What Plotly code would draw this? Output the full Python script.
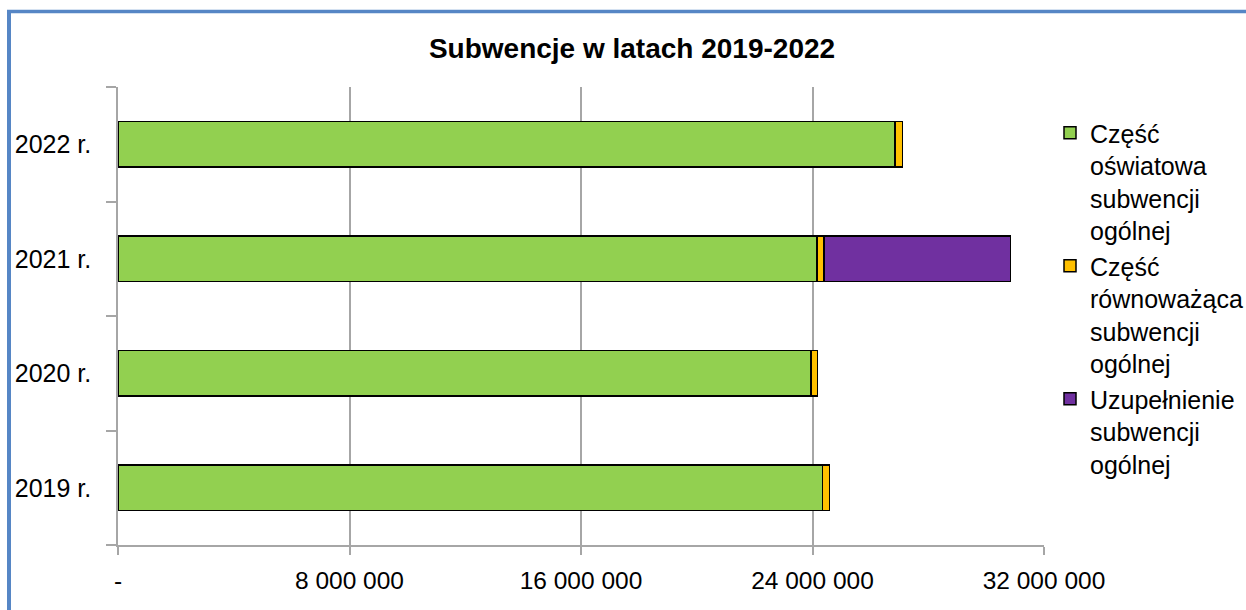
import plotly.graph_objects as go

categories = ["2019 r.", "2020 r.", "2021 r.", "2022 r."]
czesc_oswiatowa = [24350000, 23950000, 24150000, 26850000]
czesc_rownowazaca = [240000, 220000, 250000, 260000]
uzupelnienie = [None, None, 6440000, None]

series_names = [
    "Część<br>oświatowa<br>subwencji<br>ogólnej",
    "Część<br>równoważąca<br>subwencji<br>ogólnej",
    "Uzupełnienie<br>subwencji<br>ogólnej",
]
colors = ["#92D050", "#FFC000", "#7030A0"]

tick_vals = [0, 8000000, 16000000, 24000000, 32000000]
tick_text = ["-", "8 000 000", "16 000 000", "24 000 000", "32 000 000"]

FONT = "Liberation Sans"

fig = go.Figure()
for name, vals, col in zip(series_names, [czesc_oswiatowa, czesc_rownowazaca, uzupelnienie], colors):
    fig.add_trace(go.Bar(
        y=categories, x=vals, name=name, orientation="h",
        marker=dict(color=col, line=dict(color="#000000", width=1.5)),
    ))

# plot area in pixels: x 118..1044, y 87..545
L, R, T, B = 118, 1044, 87, 545
W, H = R - L, B - T
def px(x):
    return (x - L) / W
def py(y):
    return (B - y) / H

fig.update_layout(
    width=1246, height=610,
    margin=dict(l=L, r=1246 - R, t=T, b=610 - B, pad=0, autoexpand=False),
    barmode="stack", bargap=0.6,
    paper_bgcolor="white", plot_bgcolor="white",
    font=dict(family=FONT, size=24, color="#000000"),
    title=dict(text="<b>Subwencje w latach 2019-2022</b>", x=632 / 1246, xref="container",
               xanchor="center", y=1 - 48 / 610, yref="container", yanchor="middle",
               font=dict(family=FONT, size=28, color="#000000")),
    showlegend=True,
    legend=dict(x=1050 / 1246, xref="container", y=1 - 110 / 610, yref="container",
                xanchor="left", yanchor="top", valign="top", maxheight=590,
                traceorder="normal", font=dict(family=FONT, size=25),
                bgcolor="rgba(0,0,0,0)", itemwidth=30),
    xaxis=dict(range=[0, 32000000], tickvals=tick_vals, ticktext=tick_text,
               automargin=False,
               showgrid=True, gridcolor="#A6A6A6", gridwidth=1.5,
               showline=True, linecolor="#A6A6A6", linewidth=2,
               ticks="outside", ticklen=8, tickcolor="#A6A6A6", tickwidth=1.5,
               ticklabelstandoff=5, zeroline=False,
               tickfont=dict(family=FONT, size=24.5)),
    yaxis=dict(showline=True, linecolor="#A6A6A6", linewidth=1.5, automargin=False,
               ticks="outside", tickson="boundaries", ticklen=10,
               tickcolor="#A6A6A6", tickwidth=1.5, ticklabelstandoff=20,
               showgrid=False, tickfont=dict(family=FONT, size=25)),
)

# blue chart frame (left and top edges visible)
fig.add_shape(type="line", xref="paper", yref="paper",
              x0=px(9), x1=px(9), y0=py(10), y1=py(640),
              line=dict(color="#5686C5", width=4), layer="above")
fig.add_shape(type="line", xref="paper", yref="paper",
              x0=px(7), x1=px(1280), y0=py(11.5), y1=py(11.5),
              line=dict(color="#5686C5", width=3.5), layer="above")

fig.write_html("out.html", config={"displayModeBar": False},
               post_script="document.body.style.margin='0';document.body.style.overflow='hidden';")
